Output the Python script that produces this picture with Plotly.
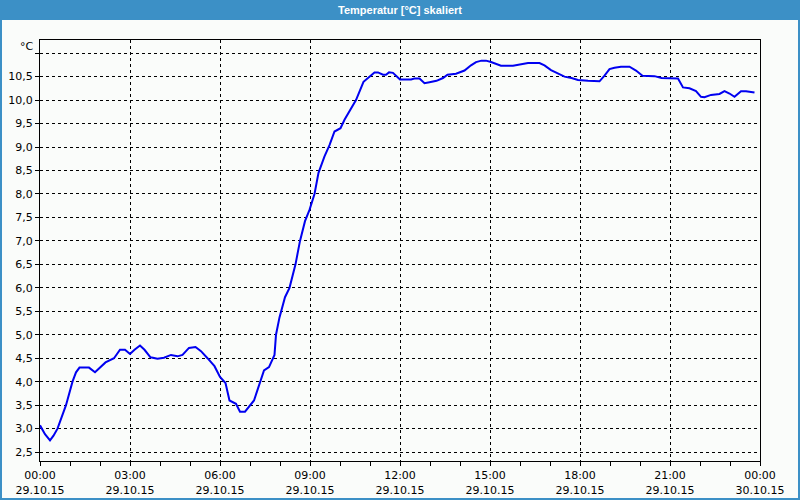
import plotly.graph_objects as go

DAY = "2015-10-29"
times = ["00:00","00:10","00:20","00:27","00:35","00:43","00:52","01:05","01:12","01:19",
         "01:38","01:50","02:00","02:11","02:28","02:40","02:50","03:00","03:09","03:20",
         "03:29","03:41","03:55","04:08","04:22","04:35","04:45","04:58","05:11","05:22",
         "05:35","05:49","06:00","06:11","06:19","06:32","06:40","06:50","07:08","07:19",
         "07:28","07:38","07:49","07:52","07:59","08:10","08:19","08:31","08:40","08:50",
         "08:59","09:09","09:17","09:29","09:39","09:49","10:01","10:09","10:21","10:32",
         "10:47","10:59","11:09","11:16","11:26","11:32","11:38","11:46","11:52","12:00",
         "12:22","12:29","12:39","12:49","12:59","13:13","13:26","13:35","13:52","14:09",
         "14:22","14:32","14:43","14:52","15:02","15:13","15:22","15:46","16:05","16:16",
         "16:39","16:49","17:02","17:16","17:29","17:43","17:56","18:16","18:39","18:49",
         "18:59","19:09","19:22","19:39","19:52","20:05","20:29","20:43","20:59","21:16",
         "21:26","21:39","21:52","22:02","22:09","22:22","22:39","22:49","22:59","23:09",
         "23:22","23:32","23:49"]
temps = [3.07,2.88,2.75,2.85,3.00,3.22,3.50,4.00,4.20,4.30,
         4.30,4.20,4.30,4.41,4.50,4.68,4.68,4.59,4.68,4.77,
         4.68,4.52,4.49,4.51,4.57,4.54,4.57,4.72,4.74,4.65,
         4.50,4.33,4.10,3.97,3.60,3.53,3.36,3.36,3.60,3.97,
         4.24,4.31,4.57,5.00,5.37,5.80,6.00,6.50,7.00,7.42,
         7.66,8.00,8.45,8.80,9.04,9.33,9.40,9.58,9.79,10.00,
         10.39,10.49,10.59,10.59,10.54,10.54,10.59,10.58,10.52,10.44,
         10.44,10.46,10.46,10.36,10.38,10.41,10.47,10.54,10.56,10.63,
         10.74,10.81,10.84,10.84,10.81,10.76,10.73,10.73,10.77,10.79,
         10.79,10.74,10.64,10.56,10.50,10.47,10.43,10.41,10.40,10.52,
         10.66,10.69,10.71,10.71,10.63,10.52,10.51,10.47,10.47,10.46,
         10.27,10.25,10.19,10.07,10.06,10.11,10.13,10.19,10.14,10.07,
         10.19,10.19,10.16]

x_tick_vals = ["2015-10-29 00:00","2015-10-29 03:00","2015-10-29 06:00","2015-10-29 09:00",
               "2015-10-29 12:00","2015-10-29 15:00","2015-10-29 18:00","2015-10-29 21:00",
               "2015-10-30 00:00"]
x_tick_text = ["00:00<br>29.10.15","03:00<br>29.10.15","06:00<br>29.10.15","09:00<br>29.10.15",
               "12:00<br>29.10.15","15:00<br>29.10.15","18:00<br>29.10.15","21:00<br>29.10.15",
               "00:00<br>30.10.15"]
y_tick_vals = [2.5,3.0,3.5,4.0,4.5,5.0,5.5,6.0,6.5,7.0,7.5,8.0,8.5,9.0,9.5,10.0,10.5,11.0]
y_tick_text = ["2,5","3,0","3,5","4,0","4,5","5,0","5,5","6,0","6,5","7,0","7,5","8,0",
               "8,5","9,0","9,5","10,0","10,5",""]

W, H = 800, 500
L, R, T, B = 40, 40, 40, 39
PW, PH = W - L - R, H - T - B

def px(x):
    return (x - L) / PW

def py(y):
    return (H - B - y) / PH

BLUE = "#3C90C6"
BG = "#FAFCFA"
FONT = "DejaVu Sans"

fig = go.Figure()
fig.add_trace(go.Scatter(
    x=[f"{DAY} {t}" for t in times], y=temps, mode="lines",
    line=dict(color="#0000F0", width=2), showlegend=False, hoverinfo="skip"))

axis_common = dict(
    showline=True, linecolor="black", linewidth=1, mirror=True,
    showgrid=True, gridcolor="black", gridwidth=1, griddash="3px,3px",
    zeroline=False, ticks="outside", tickcolor="black", ticklen=4,
    tickfont=dict(family=FONT, size=11, color="black"), automargin=False,
)

fig.update_xaxes(
    range=["2015-10-29 00:00", "2015-10-30 00:00"],
    tickvals=x_tick_vals, ticktext=x_tick_text,
    minor=dict(dtick=3600000, ticks="outside", ticklen=4, tickcolor="black", showgrid=False),
    **axis_common)
fig.update_yaxes(
    range=[2.31, 11.28], tickvals=y_tick_vals, ticktext=y_tick_text,
    **axis_common)

shapes = [
    dict(type="rect", xref="paper", yref="paper", x0=px(0), x1=px(W), y0=py(20), y1=py(0),
         fillcolor=BLUE, line=dict(width=0), layer="above"),
    dict(type="rect", xref="paper", yref="paper", x0=px(0), x1=px(2), y0=py(H), y1=py(0),
         fillcolor=BLUE, line=dict(width=0), layer="above"),
    dict(type="rect", xref="paper", yref="paper", x0=px(W - 2), x1=px(W), y0=py(H), y1=py(0),
         fillcolor=BLUE, line=dict(width=0), layer="above"),
    dict(type="rect", xref="paper", yref="paper", x0=px(0), x1=px(W), y0=py(H), y1=py(H - 2),
         fillcolor=BLUE, line=dict(width=0), layer="above"),
]

annotations = [
    dict(text="<b>Temperatur [°C] skaliert</b>", xref="paper", yref="paper",
         x=0.5, y=py(10), xanchor="center", yanchor="middle", showarrow=False,
         font=dict(family="Liberation Sans", size=11, color="white")),
    dict(text="°C", xref="paper", yref="paper", x=px(36), y=py(46),
         xanchor="right", yanchor="middle", showarrow=False,
         font=dict(family=FONT, size=11, color="black")),
]

fig.update_layout(
    width=W, height=H, margin=dict(l=L, r=R, t=T, b=B),
    paper_bgcolor=BG, plot_bgcolor=BG,
    shapes=shapes, annotations=annotations, showlegend=False,
)

fig.write_html("out.html")
